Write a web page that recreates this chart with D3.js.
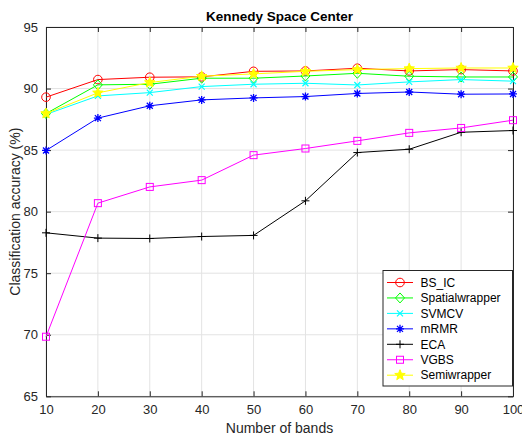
<!DOCTYPE html>
<html>
<head>
<meta charset="utf-8">
<script src="https://cdn.jsdelivr.net/npm/d3@7"></script>
<style>
  body { margin: 0; background: #fff; }
  svg { font-family: "Liberation Sans", Arial, sans-serif; }
</style>
</head>
<body>
<svg id="chart" width="522" height="438"></svg>
<script>
// data
const bands = [10, 20, 30, 40, 50, 60, 70, 80, 90, 100];
const bsIc = [89.3, 90.73, 90.92, 90.95, 91.4, 91.43, 91.65, 91.43, 91.54, 91.43];
const spatialWrapper = [87.97, 90.3, 90.35, 90.84, 90.84, 91.02, 91.24, 91.0, 90.94, 90.94];
const svmcv = [87.9, 89.4, 89.67, 90.16, 90.35, 90.43, 90.29, 90.54, 90.73, 90.6];
const mrmr = [84.97, 87.6, 88.6, 89.08, 89.24, 89.35, 89.6, 89.72, 89.54, 89.56];
const eca = [78.28, 77.85, 77.82, 77.98, 78.07, 80.88, 84.8, 85.07, 86.45, 86.59];
const vgbs = [69.84, 80.69, 82.01, 82.56, 84.59, 85.13, 85.75, 86.4, 86.8, 87.43];
const semiWrapper = [87.97, 89.65, 90.49, 91.0, 91.19, 91.4, 91.54, 91.62, 91.67, 91.67];
const xTicks = [10, 20, 30, 40, 50, 60, 70, 80, 90, 100];
const yTicks = [65, 70, 75, 80, 85, 90, 95];

const series = [
  { name: "BS_IC", values: bsIc, color: "#ff0000", marker: "circle" },
  { name: "Spatialwrapper", values: spatialWrapper, color: "#00ff00", marker: "diamond" },
  { name: "SVMCV", values: svmcv, color: "#00ffff", marker: "x" },
  { name: "mRMR", values: mrmr, color: "#0000ff", marker: "asterisk" },
  { name: "ECA", values: eca, color: "#000000", marker: "plus" },
  { name: "VGBS", values: vgbs, color: "#ff00ff", marker: "square" },
  { name: "Semiwrapper", values: semiWrapper, color: "#ffff00", marker: "star" }
];

const margin = { left: 46, right: 9, top: 27, bottom: 42 };
const W = 522, H = 438;
const svg = d3.select("#chart");

const x = d3.scaleLinear().domain([10, 100]).range([margin.left, W - margin.right]);
const y = d3.scaleLinear().domain([65, 95]).range([H - margin.bottom + 0.3, margin.top]);

// grid
const grid = svg.append("g");
grid.selectAll(".gx").data(xTicks).enter().append("line")
  .attr("x1", d => x(d)).attr("x2", d => x(d))
  .attr("y1", y(65)).attr("y2", y(95))
  .attr("stroke", "#e3e3e3").attr("stroke-width", 1);
grid.selectAll(".gy").data(yTicks).enter().append("line")
  .attr("y1", d => y(d)).attr("y2", d => y(d))
  .attr("x1", x(10)).attr("x2", x(100))
  .attr("stroke", "#e3e3e3").attr("stroke-width", 1);

// axes with inward ticks
const axBottom = svg.append("g").attr("transform", `translate(0,${y(65)})`)
  .call(d3.axisBottom(x).tickValues(xTicks).tickSizeInner(-5).tickSizeOuter(0).tickPadding(8));
const axTop = svg.append("g").attr("transform", `translate(0,${y(95)})`)
  .call(d3.axisTop(x).tickValues(xTicks).tickSizeInner(-5).tickSizeOuter(0).tickFormat(""));
const axLeft = svg.append("g").attr("transform", `translate(${x(10)},0)`)
  .call(d3.axisLeft(y).tickValues(yTicks).tickSizeInner(-5).tickSizeOuter(0).tickPadding(8));
const axRight = svg.append("g").attr("transform", `translate(${x(100)},0)`)
  .call(d3.axisRight(y).tickValues(yTicks).tickSizeInner(-5).tickSizeOuter(0).tickFormat(""));

[axBottom, axTop, axLeft, axRight].forEach(g => {
  g.selectAll("path").attr("stroke", "#262626");
  g.selectAll("line").attr("stroke", "#262626");
  g.selectAll("text").attr("fill", "#262626").style("font-size", "13px");
  g.attr("font-family", null);
});
axBottom.selectAll("text").attr("dy", "0.71em");

// lines
const line = d3.line().x((d, i) => x(bands[i])).y(d => y(d));

function drawMarker(g, type, color, cx, cy) {
  const s = 4;
  if (type === "circle") {
    g.append("circle").attr("cx", cx).attr("cy", cy).attr("r", 4.3)
      .attr("fill", "none").attr("stroke", color);
  } else if (type === "diamond") {
    g.append("path").attr("d", `M${cx},${cy - 5}L${cx + 4.5},${cy}L${cx},${cy + 5}L${cx - 4.5},${cy}Z`)
      .attr("fill", "none").attr("stroke", color);
  } else if (type === "square") {
    g.append("rect").attr("x", cx - 3.5).attr("y", cy - 3.5).attr("width", 7).attr("height", 7)
      .attr("fill", "none").attr("stroke", color);
  } else if (type === "x") {
    g.append("path").attr("d", `M${cx - 3},${cy - 3}L${cx + 3},${cy + 3}M${cx - 3},${cy + 3}L${cx + 3},${cy - 3}`)
      .attr("stroke", color).attr("stroke-width", 1.2);
  } else if (type === "plus") {
    g.append("path").attr("d", `M${cx - s},${cy}L${cx + s},${cy}M${cx},${cy - s}L${cx},${cy + s}`)
      .attr("stroke", color);
  } else if (type === "asterisk") {
    g.append("path").attr("d", `M${cx - s},${cy}L${cx + s},${cy}M${cx},${cy - s}L${cx},${cy + s}M${cx - 3},${cy - 3}L${cx + 3},${cy + 3}M${cx - 3},${cy + 3}L${cx + 3},${cy - 3}`)
      .attr("stroke", color).attr("stroke-width", 1.3);
  } else if (type === "star") {
    const pts = [];
    for (let k = 0; k < 10; k++) {
      const r = k % 2 === 0 ? 5.5 : 2.4;
      const a = -Math.PI / 2 + k * Math.PI / 5;
      pts.push([cx + r * Math.cos(a), cy + r * Math.sin(a)]);
    }
    g.append("path").attr("d", "M" + pts.map(p => p.join(",")).join("L") + "Z")
      .attr("fill", color).attr("stroke", color).attr("stroke-width", 1);
  }
}

series.forEach(s => {
  const g = svg.append("g");
  g.append("path").datum(s.values).attr("d", line)
    .attr("fill", "none").attr("stroke", s.color).attr("stroke-width", 1);
  s.values.forEach((v, i) => drawMarker(g, s.marker, s.color, x(bands[i]), y(v)));
});

// legend
const lg = svg.append("g");
const lx = 383, ly = 270.5, lw = 129.5, lh = 115.5;
lg.append("rect").attr("x", lx).attr("y", ly).attr("width", lw).attr("height", lh)
  .attr("fill", "#fff").attr("stroke", "#262626").attr("stroke-width", 1);
series.forEach((s, i) => {
  const yy = ly + 12 + i * 15.45;
  lg.append("line").attr("x1", lx + 4).attr("x2", lx + 30).attr("y1", yy).attr("y2", yy)
    .attr("stroke", s.color);
  drawMarker(lg, s.marker, s.color, lx + 17, yy);
  lg.append("text").attr("x", lx + 37.5).attr("y", yy).attr("dy", "0.35em")
    .style("font-size", "12px").attr("fill", "#000").text(s.name);
});

// titles
svg.append("text").attr("x", (x(10) + x(100)) / 2).attr("y", 21)
  .attr("text-anchor", "middle").style("font-size", "13.5px").style("font-weight", "bold")
  .attr("fill", "#000").text("Kennedy Space Center");
svg.append("text").attr("x", (x(10) + x(100)) / 2).attr("y", 433)
  .attr("text-anchor", "middle").style("font-size", "14px").attr("fill", "#262626")
  .text("Number of bands");
svg.append("text").attr("transform", `translate(20,${(y(65) + y(95)) / 2}) rotate(-90)`)
  .attr("text-anchor", "middle").style("font-size", "14px").attr("fill", "#262626")
  .text("Classification accuracy (%)");
</script>
</body>
</html>
